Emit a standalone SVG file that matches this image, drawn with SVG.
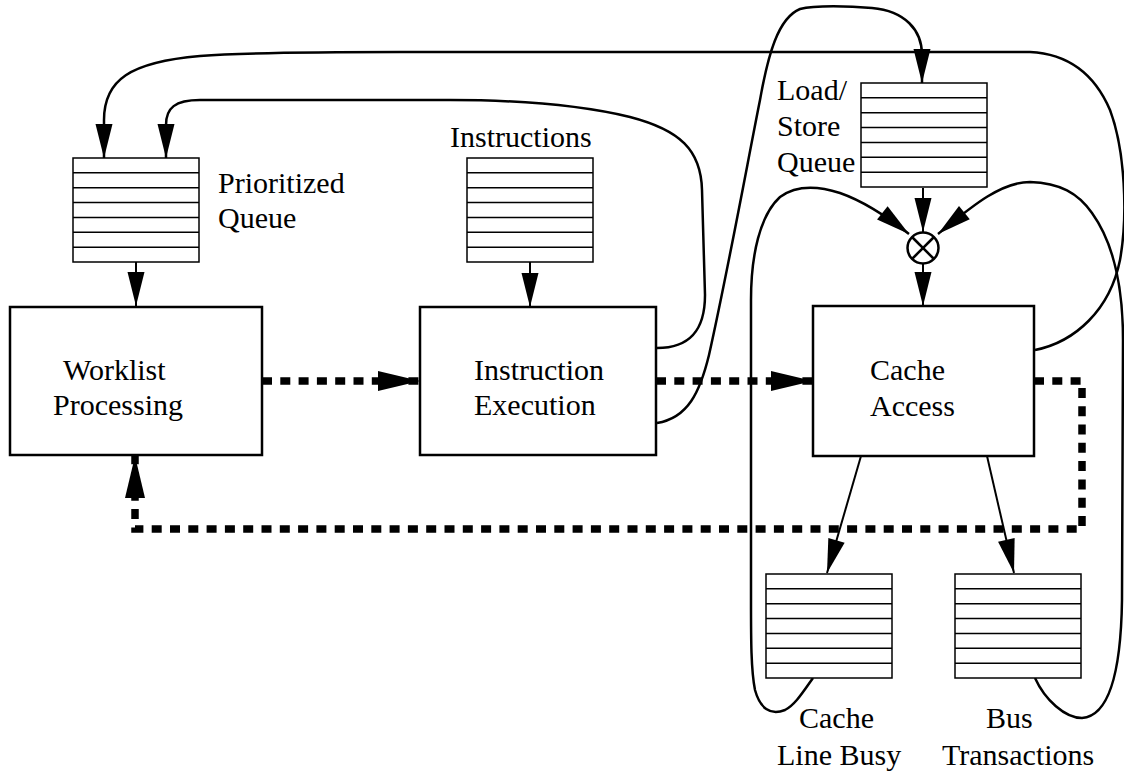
<svg xmlns="http://www.w3.org/2000/svg" xmlns:xlink="http://www.w3.org/1999/xlink" width="1124" height="773" viewBox="0 0 1124 773">
<style>
  text { font-family: "Liberation Serif", "Times New Roman", serif; font-size: 30px; fill: #000; }
  .box { fill: #fff; stroke: #000; stroke-width: 2.5; }
  .q { fill: #fff; stroke: #000; stroke-width: 1.5; }
  .ql { stroke: #000; stroke-width: 1.5; }
  .thin { fill: none; stroke: #000; stroke-width: 2; marker-end: url(#ah); }
  .curve { fill: none; stroke: #000; stroke-width: 2.5; marker-end: url(#ah); }
  .dash { fill: none; stroke: #000; stroke-width: 7.5; stroke-dasharray: 10 8.3; marker-end: url(#bh); }
</style>
<defs>
  <marker id="ah" markerUnits="userSpaceOnUse" markerWidth="35" markerHeight="18" refX="34" refY="8.5" orient="auto" overflow="visible">
    <path d="M0,0 L34,8.5 L0,17 z" fill="#000"/>
  </marker>
  <marker id="bh" markerUnits="userSpaceOnUse" markerWidth="43" markerHeight="20" refX="42" refY="10" orient="auto" overflow="visible">
    <path d="M0,0 L42,10 L0,20 z" fill="#000"/>
  </marker>
  <g id="queue">
    <rect class="q" x="0" y="0" width="126" height="104"/>
    <line class="ql" x1="0" y1="14.86" x2="126" y2="14.86"/>
    <line class="ql" x1="0" y1="29.71" x2="126" y2="29.71"/>
    <line class="ql" x1="0" y1="44.57" x2="126" y2="44.57"/>
    <line class="ql" x1="0" y1="59.43" x2="126" y2="59.43"/>
    <line class="ql" x1="0" y1="74.29" x2="126" y2="74.29"/>
    <line class="ql" x1="0" y1="89.14" x2="126" y2="89.14"/>
  </g>
</defs>
<rect width="1124" height="773" fill="#fff"/>

<g id="connectors">
  <!-- dashed main flow -->
  <path class="dash" d="M262 381 L420 381"/>
  <path class="dash" d="M656 381 L813 381"/>
  <path class="dash" d="M1034 381 L1082 381 L1082 529 L135 529 L135 456"/>
  <!-- straight thin arrows -->
  <path class="thin" d="M136 262 L136 306"/>
  <path class="thin" d="M530 262 L530 307"/>
  <path class="thin" d="M923 188 L923 232"/>
  <path class="thin" d="M923 263 L923 306"/>
  <path class="thin" d="M861 456 L827 573"/>
  <path class="thin" d="M987 456 L1014 573"/>
  <!-- outer loop: Cache Access -> Prioritized Queue -->
  <path class="curve" d="M1035 350 C1075 342 1110 310 1120 260 C1128 215 1125 150 1110 110 C1095 75 1070 54 1030 52 L400 52 C300 52 240 53 200 56 C130 62 104 80 104 120 L104 158"/>
  <!-- inner loop: Instruction Execution -> Prioritized Queue -->
  <path class="curve" d="M657 348 C690 348 705 330 705 295 L702 190 C701 150 680 130 630 117 C580 105 520 100 450 100 L200 100 C175 100 166 108 166 125 L166 158"/>
  <!-- Instruction Execution -> Load/Store Queue -->
  <path class="curve" d="M657 423 C688 418 700 392 709 355 C728 270 748 160 760 100 C768 55 778 18 800 9 C815 5 850 6 872 8 C905 11 922 30 922 55 L922 83"/>
  <!-- Cache Line Busy -> mux -->
  <path class="curve" d="M813 678 C803 692 795 705 785 710 C770 716 760 708 755 690 C751 670 751 640 751 600 L751 300 C751 255 760 215 780 197 C795 186 815 185 840 193 C860 200 885 215 909 234"/>
  <!-- Bus Transactions -> mux -->
  <path class="curve" d="M1035 678 C1045 700 1065 718 1082 718 C1110 716 1121 670 1122 600 L1123 340 C1123 290 1115 245 1092 213 C1078 193 1060 183 1030 182 C1000 182 970 208 938 234"/>
</g>

<g id="mux">
  <circle cx="923" cy="248" r="15.5" fill="#fff" stroke="#000" stroke-width="2.5"/>
  <line x1="912" y1="237" x2="934" y2="259" stroke="#000" stroke-width="2.5"/>
  <line x1="934" y1="237" x2="912" y2="259" stroke="#000" stroke-width="2.5"/>
</g>

<g id="prioritized-queue">
  <use xlink:href="#queue" href="#queue" x="73" y="158"/>
  <text x="218" y="193">Prioritized</text>
  <text x="218" y="228">Queue</text>
</g>
<g id="instructions-queue">
  <use xlink:href="#queue" href="#queue" x="467" y="158"/>
  <text x="450" y="147">Instructions</text>
</g>
<g id="load-store-queue">
  <use xlink:href="#queue" href="#queue" x="861" y="83"/>
  <text x="777" y="100">Load/</text>
  <text x="777" y="136">Store</text>
  <text x="777" y="172">Queue</text>
</g>
<g id="cache-line-busy">
  <use xlink:href="#queue" href="#queue" x="766" y="574"/>
  <text x="799" y="728">Cache</text>
  <text x="777" y="765">Line Busy</text>
</g>
<g id="bus-transactions">
  <use xlink:href="#queue" href="#queue" x="955" y="574"/>
  <text x="986" y="728">Bus</text>
  <text x="942" y="765">Transactions</text>
</g>

<g id="worklist-processing">
  <rect class="box" x="10" y="307" width="252" height="148"/>
  <text x="63" y="380">Worklist</text>
  <text x="53" y="415">Processing</text>
</g>
<g id="instruction-execution">
  <rect class="box" x="420" y="307" width="236" height="148"/>
  <text x="474" y="380">Instruction</text>
  <text x="474" y="415">Execution</text>
</g>
<g id="cache-access">
  <rect class="box" x="813" y="306" width="221" height="150"/>
  <text x="870" y="380">Cache</text>
  <text x="870" y="416">Access</text>
</g>
</svg>
